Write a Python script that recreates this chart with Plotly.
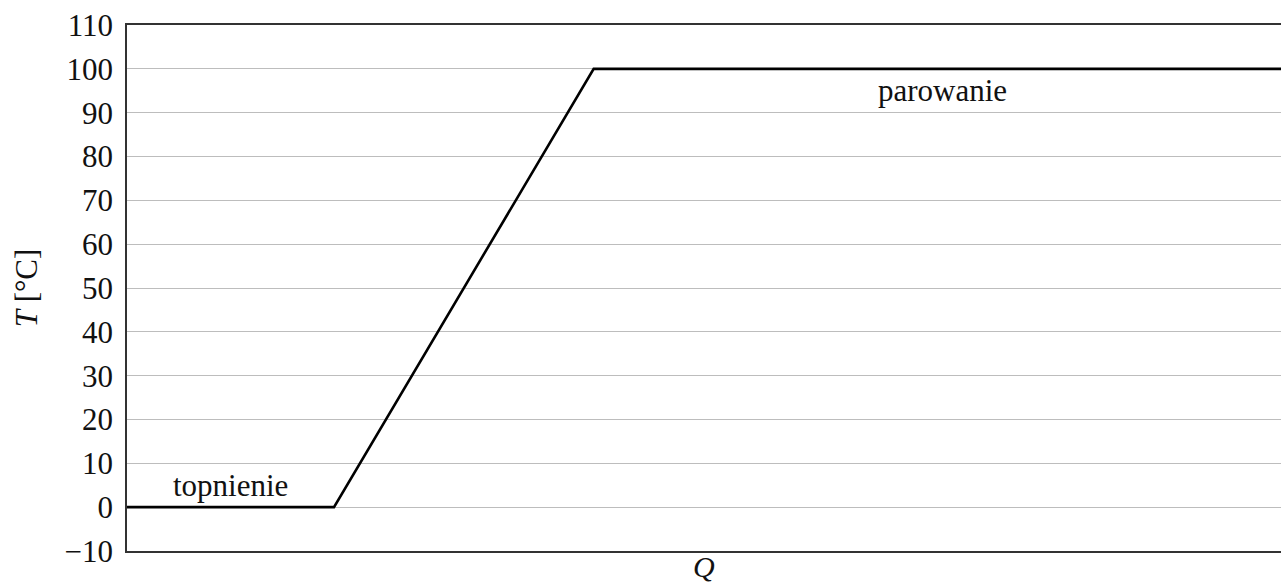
import plotly.graph_objects as go

# Heat (kJ) vs temperature (°C) for water: melting, heating, vaporisation
Q = [0, 334, 753, 3013]
T = [0, 0, 100, 100]

y_ticks = list(range(-10, 111, 10))

labels = ["topnienie", "parowanie"]
label_x = [167, 1316]
label_y = [5, 95]

FONT = "Liberation Serif"

fig = go.Figure()
fig.add_trace(go.Scatter(x=Q, y=T, mode="lines",
                         line=dict(color="black", width=2.6),
                         showlegend=False, hoverinfo="skip"))

for txt, xx, yy in zip(labels, label_x, label_y):
    fig.add_annotation(x=xx, y=yy, text=txt, showarrow=False,
                       font=dict(family=FONT, size=31, color="#111"))

fig.add_annotation(x=0.5, xref="paper", y=0, yref="paper", yanchor="bottom",
                   yshift=-34, text="<i>Q</i>", showarrow=False,
                   font=dict(family=FONT, size=30, color="#111"))

fig.update_layout(
    width=1281, height=584,
    margin=dict(l=127, r=0, t=25, b=33),
    paper_bgcolor="white", plot_bgcolor="white",
    font=dict(family=FONT, size=31, color="#111"),
    xaxis=dict(range=[0, 1862], showgrid=False, zeroline=False,
               showticklabels=False, ticks="", automargin=False,
               showline=True, linecolor="#333", linewidth=1.5, mirror=True),
    yaxis=dict(range=[-10, 110], tickvals=y_ticks, showgrid=True,
               gridcolor="#bdbdbd", gridwidth=1, zeroline=False,
               showline=True, linecolor="#333", linewidth=1.5, mirror=False,
               ticks="", ticklabelstandoff=6, automargin=False,
               title=dict(text="<i>T</i> [°C]", standoff=18,
                          font=dict(family=FONT, size=31))),
)

fig.write_html("out.html",
               config={"displayModeBar": False},
               post_script="document.body.style.margin='0';"
                           "document.body.style.overflow='hidden';")
